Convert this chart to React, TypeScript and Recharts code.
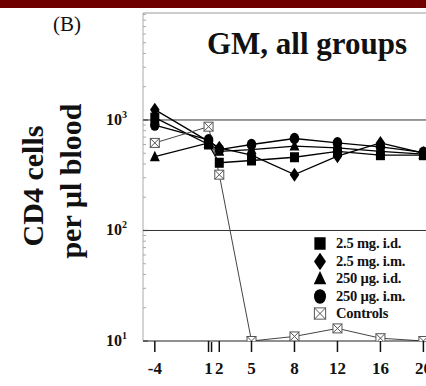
import { LineChart, Line, XAxis, YAxis, ReferenceLine, Legend } from 'recharts';

// weeks after immunisation, and where each one sits on the (unevenly spaced) printed axis
const weeks = [-4, 1, 2, 5, 8, 12, 16, 20];
const weekSlot = [0, 5, 6, 9, 13, 17, 21, 25];

// geometric mean CD4 cells per µl blood
const mg25Id = [1050, 600, 410, 430, 460, 520, 480, 480];
const mg25Im = [1240, 640, 560, 480, 320, 470, 620, 500];
const ug250Id = [465, 620, 520, 540, 580, 560, 520, 490];
const ug250Im = [900, 660, 540, 600, 680, 620, 570, 510];
const controls = [620, 870, 320, 10, 11, 13, 10.6, 10];

const yTicks = [10, 20, 30, 40, 50, 60, 70, 80, 90, 100, 200, 300, 400, 500, 600, 700, 800, 900, 1000, 2000, 3000, 4000, 5000, 6000, 7000, 8000, 9000];
const yMax = 9290;

const serif = '"Liberation Serif", "Times New Roman", serif';

type Shape = 'square' | 'diamond' | 'triangle' | 'circle' | 'cross';

const series: { key: string; name: string; shape: Shape; values: number[] }[] = [
  { key: 'mg25Id', name: '2.5 mg. i.d.', shape: 'square', values: mg25Id },
  { key: 'mg25Im', name: '2.5 mg. i.m.', shape: 'diamond', values: mg25Im },
  { key: 'ug250Id', name: '250 µg. i.d.', shape: 'triangle', values: ug250Id },
  { key: 'ug250Im', name: '250 µg. i.m.', shape: 'circle', values: ug250Im },
  { key: 'controls', name: 'Controls', shape: 'cross', values: controls },
];

const data = weeks.map((w, i) => {
  const row: Record<string, number> = { week: w, slot: weekSlot[i] };
  series.forEach((s) => (row[s.key] = s.values[i]));
  return row;
});

function Marker({ cx, cy, shape, k = 1 }: { cx: number; cy: number; shape: Shape; k?: number }) {
  if (cx == null || cy == null) return null;
  switch (shape) {
    case 'square':
      return <rect x={cx - 4.5 * k} y={cy - 5 * k} width={9 * k} height={10 * k} fill="#000" />;
    case 'diamond':
      return (
        <polygon
          points={`${cx},${cy - 7 * k} ${cx + 4.8 * k},${cy} ${cx},${cy + 7 * k} ${cx - 4.8 * k},${cy}`}
          fill="#000"
        />
      );
    case 'triangle':
      return (
        <polygon
          points={`${cx},${cy - 6 * k} ${cx + 5 * k},${cy + 4.5 * k} ${cx - 5 * k},${cy + 4.5 * k}`}
          fill="#000"
        />
      );
    case 'circle':
      return <ellipse cx={cx} cy={cy} rx={4.8 * k} ry={5.8 * k} fill="#000" />;
    default:
      return (
        <g stroke="#555" strokeWidth={1} fill="#fff">
          <rect x={cx - 4.5 * k} y={cy - 4.5 * k} width={9 * k} height={9 * k} />
          <line x1={cx - 4.5 * k} y1={cy - 4.5 * k} x2={cx + 4.5 * k} y2={cy + 4.5 * k} />
          <line x1={cx + 4.5 * k} y1={cy - 4.5 * k} x2={cx - 4.5 * k} y2={cy + 4.5 * k} />
        </g>
      );
  }
}

function XTick({ x, y, payload }: any) {
  const idx = weekSlot.indexOf(payload.value);
  return (
    <g>
      <line x1={x} y1={y} x2={x} y2={y + 11} stroke="#111" strokeWidth={1.5} />
      {weeks[idx] === 1 && <line x1={x + 3} y1={y + 1} x2={x + 3} y2={y + 11} stroke="#111" strokeWidth={1.5} />}
      <text x={x} y={y + 33} textAnchor="middle" fontFamily={serif} fontWeight="bold" fontSize={17} fill="#111">
        {weeks[idx] < 0 ? '-' + Math.abs(weeks[idx]) : weeks[idx]}
      </text>
    </g>
  );
}

function YTick({ x, y, payload }: any) {
  const lg = Math.log10(payload.value);
  const exp = Math.round(lg);
  if (Math.abs(lg - exp) > 1e-6) {
    return <line x1={x} y1={y} x2={x + 3} y2={y} stroke="#aaa" strokeWidth={1} />;
  }
  return (
    <g>
      <line x1={x} y1={y} x2={x + 5} y2={y} stroke="#444" strokeWidth={1.2} />
      <text x={x - 16} y={y + 5} textAnchor="end" fontFamily={serif} fontWeight="bold" fontSize={16} fill="#111">
        10
        <tspan dy={-7} fontSize={10}>
          {exp}
        </tspan>
      </text>
    </g>
  );
}

function LegendBox() {
  return (
    <div style={{ fontFamily: serif, fontWeight: 'bold', fontSize: 14.5, color: '#111' }}>
      {series.map((s) => (
        <div key={s.key} style={{ display: 'flex', alignItems: 'center', height: 17.5 }}>
          <svg width={16} height={17} style={{ marginRight: 8 }}>
            <Marker cx={8} cy={8.5} shape={s.shape} k={1.25} />
          </svg>
          <span style={{ whiteSpace: 'nowrap', letterSpacing: -0.2 }}>{s.name}</span>
        </div>
      ))}
    </div>
  );
}

export default function App() {
  return (
    <div style={{ position: 'absolute', left: 0, top: 0, width: 426, height: 386, overflow: 'hidden', background: '#fff' }}>
      <div style={{ position: 'absolute', left: 0, top: 0, width: 426, height: 8, background: '#6e0000' }} />
      <LineChart width={440} height={386} data={data} margin={{ top: 13, right: 8, bottom: 0, left: 0 }}>
        <XAxis
          type="number"
          dataKey="slot"
          domain={[-1.1, 25.8]}
          ticks={weekSlot}
          tick={<XTick />}
          tickLine={false}
          tickSize={0}
          tickMargin={0}
          height={45}
          interval={0}
          axisLine={{ stroke: '#222', strokeWidth: 1.2 }}
          allowDataOverflow
        />
        <YAxis
          scale="log"
          domain={[10, yMax]}
          ticks={yTicks}
          tick={<YTick />}
          tickLine={false}
          tickSize={0}
          tickMargin={0}
          width={143}
          axisLine={{ stroke: '#aaa', strokeWidth: 1 }}
          allowDataOverflow
          interval={0}
        />
        <ReferenceLine y={1000} stroke="#333" strokeWidth={1} />
        <ReferenceLine y={100} stroke="#333" strokeWidth={1} />
        <ReferenceLine y={yMax} stroke="#999" strokeWidth={1} />
        {series.map((s) => (
          <Line
            key={s.key}
            dataKey={s.key}
            type="linear"
            stroke={s.shape === 'cross' ? '#444' : '#000'}
            strokeWidth={s.shape === 'cross' ? 1 : 1.3}
            isAnimationActive={false}
            dot={(p: any) => <Marker key={s.key + p.index} cx={p.cx} cy={p.cy} shape={s.shape} />}
            activeDot={false}
          />
        ))}
        <Legend
          layout="vertical"
          align="center"
          verticalAlign="middle"
          content={() => <LegendBox />}
          wrapperStyle={{ left: 312, top: 235, width: 114 }}
        />
      </LineChart>
      <svg width={426} height={386} style={{ position: 'absolute', left: 0, top: 0, pointerEvents: 'none' }}>
        <text x={67} y={31} textAnchor="middle" fontFamily={serif} fontSize={21} fill="#111">
          (B)
        </text>
        <text x={307} y={54} textAnchor="middle" fontFamily={serif} fontWeight="bold" fontSize={31} fill="#111">
          GM, all groups
        </text>
        <text x={43} y={186} transform="rotate(-90 43 186)" textAnchor="middle" fontFamily={serif} fontWeight="bold" fontSize={30} fill="#111">
          CD4 cells
        </text>
        <text x={81} y={181} transform="rotate(-90 81 181)" textAnchor="middle" fontFamily={serif} fontWeight="bold" fontSize={30} fill="#111">
          per µl blood
        </text>
      </svg>
    </div>
  );
}
